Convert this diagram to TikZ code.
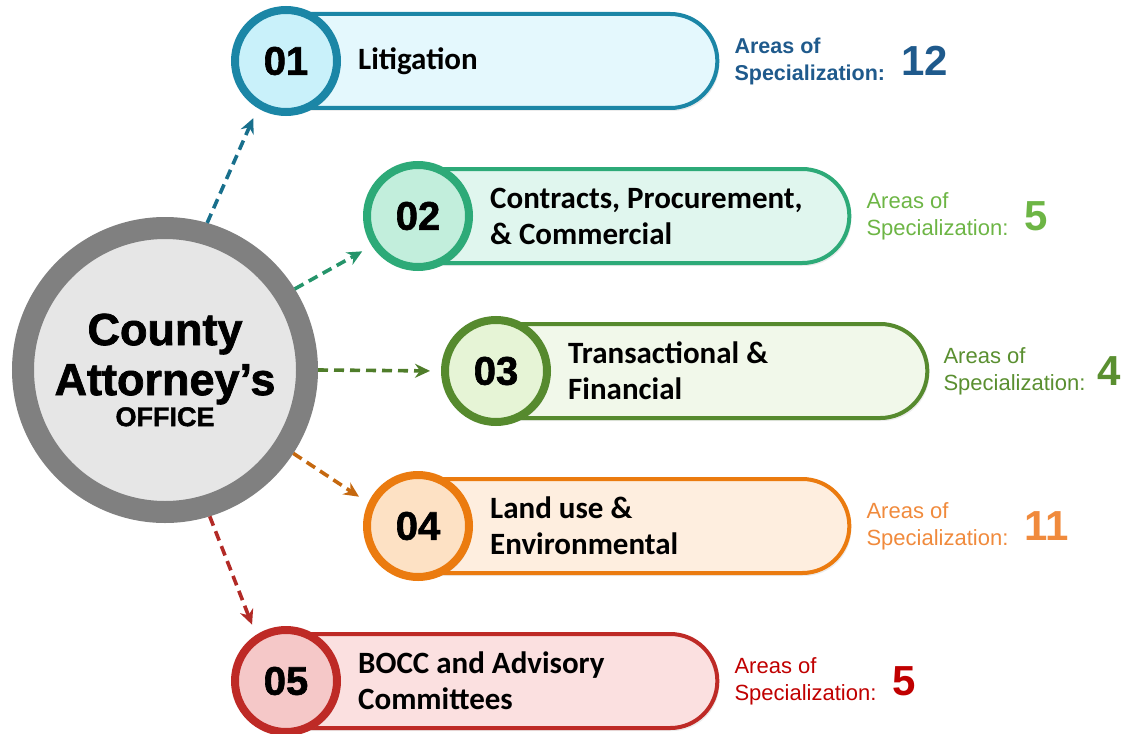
\documentclass[tikz,border=0pt]{standalone}
\usepackage{fontspec}
\setmainfont{Liberation Sans}
\newfontfamily\heavy{Liberation Sans}[BoldFont={* Bold}, BoldFeatures={FakeBold=1.6}]
\newfontfamily\calibri{Carlito}
\usepackage{xcolor}
\usepackage{tikz}
\usetikzlibrary{arrows.meta,positioning,shapes.misc,shadows}
% row colours: line, circle fill, pill fill, arrow, side text
\definecolor{c1line}{HTML}{1B86A6}\definecolor{c1circ}{HTML}{C9F1FA}\definecolor{c1pill}{HTML}{E4F8FD}
\definecolor{c1arrow}{HTML}{186F8C}\definecolor{c1text}{HTML}{1F5A8C}
\definecolor{c2line}{HTML}{2DAA78}\definecolor{c2circ}{HTML}{C2EEDC}\definecolor{c2pill}{HTML}{E0F6EE}
\definecolor{c2arrow}{HTML}{25946A}\definecolor{c2text}{HTML}{6DB545}
\definecolor{c3line}{HTML}{568A2E}\definecolor{c3circ}{HTML}{E6F4D6}\definecolor{c3pill}{HTML}{F1F8EA}
\definecolor{c3arrow}{HTML}{4F7D2A}\definecolor{c3text}{HTML}{5A8F30}
\definecolor{c4line}{HTML}{EB7B0F}\definecolor{c4circ}{HTML}{FDE1C4}\definecolor{c4pill}{HTML}{FEEEDF}
\definecolor{c4arrow}{HTML}{C5680F}\definecolor{c4text}{HTML}{F08A3C}
\definecolor{c5line}{HTML}{BE2A26}\definecolor{c5circ}{HTML}{F5C8C8}\definecolor{c5pill}{HTML}{FBE0E0}
\definecolor{c5arrow}{HTML}{B22A26}\definecolor{c5text}{HTML}{C00000}
\definecolor{ring}{HTML}{808080}
\definecolor{hubfill}{HTML}{E6E6E6}
\tikzset{
   pill/.style={rounded rectangle, rounded rectangle west arc=none, draw=#1line, fill=#1pill,
      line width=4pt, minimum width=436pt, minimum height=94pt, anchor=west,
      drop shadow={opacity=.15, shadow xshift=2pt, shadow yshift=-3pt}},
   numcirc/.style={circle, draw=#1line, fill=#1circ, line width=8pt, minimum size=102pt,
      inner sep=0pt, font=\heavy\bfseries\fontsize{40}{40}\selectfont,
      drop shadow={opacity=.3, shadow xshift=3pt, shadow yshift=-3pt}},
   lbl/.style={inner sep=2pt, align=left, font=\calibri\bfseries\fontsize{31}{36}\selectfont},
   areas/.style={inner sep=2pt, align=left, text=#1text, font=\fontsize{22}{27}\selectfont},
   count/.style={inner sep=2pt, text=#1text, font=\bfseries\fontsize{42}{42}\selectfont},
   arr/.style={draw=#1arrow, line width=3.6pt, dash pattern=on 10pt off 6pt,
      -{Stealth[length=15pt,width=14pt,inset=5pt]}, shorten >=11pt}
}
\begin{document}
\begin{tikzpicture}[x=1pt, y=-1pt]
  \useasboundingbox (0,0) rectangle (1123,733);
  % pills and numbered circles
  \node[pill=c1] (p1) at (286,61) {};
  \node[pill=c2] (p2) at (418,216) {};
  \node[pill=c3] (p3) at (496,371) {};
  \node[pill=c4] (p4) at (418,526) {};
  \node[pill=c5] (p5) at (286,681) {};
  \node[numcirc=c1] (n1) at (p1.west) {01};
  \node[numcirc=c2] (n2) at (p2.west) {02};
  \node[numcirc=c3] (n3) at (p3.west) {03};
  \node[numcirc=c4] (n4) at (p4.west) {04};
  \node[numcirc=c5] (n5) at (p5.west) {05};
  \node[lbl, right=15pt of n1] (t1) {Litigation};
  \node[lbl, right=15pt of n2] (t2) {Contracts, Procurement,\\\& Commercial};
  \node[lbl, right=15pt of n3] (t3) {Transactional \&\\Financial};
  \node[lbl, right=15pt of n4] (t4) {Land use \&\\Environmental};
  \node[lbl, right=15pt of n5] (t5) {BOCC and Advisory\\Committees};
  % areas of specialization
  \node[areas=c1, font=\bfseries\fontsize{21.5}{27}\selectfont, right=13pt of p1] (a1) {Areas of\\Specialization:};
  \node[areas=c2, right=13pt of p2] (a2) {Areas of\\Specialization:};
  \node[areas=c3, right=12pt of p3] (a3) {Areas of\\Specialization:};
  \node[areas=c4, right=13pt of p4] (a4) {Areas of\\Specialization:};
  \node[areas=c5, right=13pt of p5] (a5) {Areas of\\Specialization:};
  \node[count=c1, right=12pt of a1] (k1) {12};
  \node[count=c2, right=12pt of a2] (k2) {5};
  \node[count=c3, right=8pt of a3] (k3) {4};
  \node[count=c4, right=12pt of a4] (k4) {11};
  \node[count=c5, right=12pt of a5] (k5) {5};
  % hub
  \node[circle, draw=ring, fill=hubfill, line width=22pt, minimum size=284pt, align=center,
     drop shadow={opacity=.3, shadow xshift=3pt, shadow yshift=-4pt},
     font=\heavy\bfseries\fontsize{45}{50}\selectfont] (hub) at (165,370)
     {County\\Attorney’s\\[-19pt]{\fontsize{27}{32}\selectfont OFFICE}};
  \draw[arr=c1] (hub.74) -- (n1.239);
  \draw[arr=c2] (hub.32) -- (n2.213);
  \draw[arr=c3] (hub.0) -- (n3.180);
  \draw[arr=c4] (hub.-33) -- (n4.155);
  \draw[arr=c5] (hub.-73) -- (n5.123);
\end{tikzpicture}
\end{document}
